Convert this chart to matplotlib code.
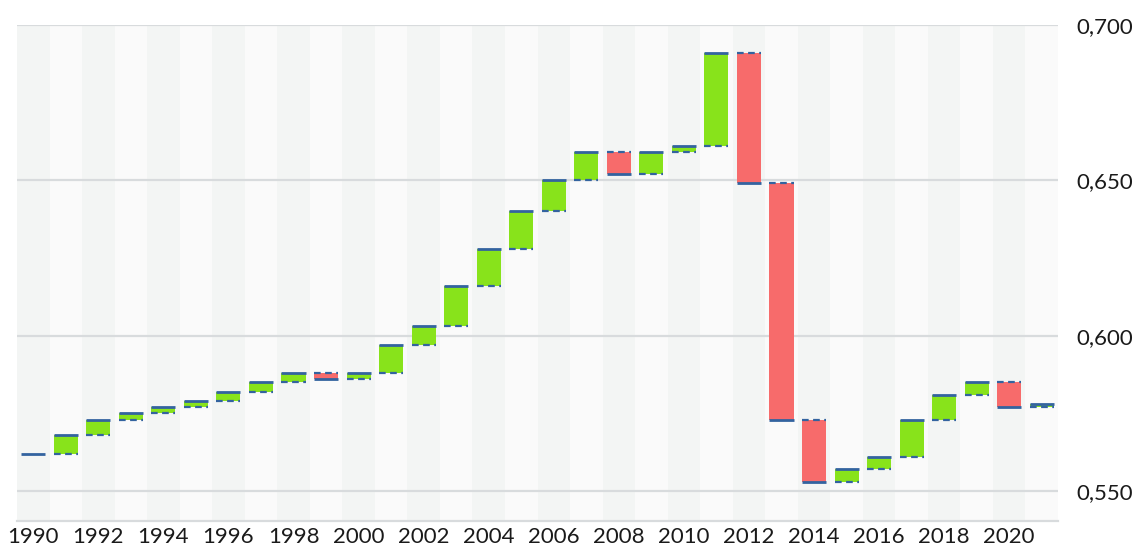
import matplotlib
matplotlib.use("Agg")
import matplotlib.pyplot as plt
from matplotlib.ticker import FuncFormatter

years = list(range(1990, 2022))
values = [0.562, 0.568, 0.573, 0.575, 0.577, 0.579, 0.582, 0.585, 0.588, 0.586,
          0.588, 0.597, 0.603, 0.616, 0.628, 0.640, 0.650, 0.659, 0.652, 0.659,
          0.661, 0.691, 0.649, 0.573, 0.553, 0.557, 0.561, 0.573, 0.581, 0.585,
          0.577, 0.578]
y_ticks = [0.55, 0.60, 0.65, 0.70]
x_ticks = list(range(1990, 2021, 2))

green = "#88e31b"
red = "#f76b6b"
blue = "#33639f"
bar_w = 0.74

plt.rcParams['font.family'] = ['Lato', 'DejaVu Sans']
fig = plt.figure(figsize=(11.36, 5.49), dpi=100)
ax = fig.add_axes([17/1136, 1 - 521/549, (1058 - 17)/1136, (521 - 25)/549])

# alternating year bands
for i, yr in enumerate(years):
    ax.axvspan(yr - 0.5, yr + 0.5, color="#f3f5f4" if i % 2 == 0 else "#fafafa", lw=0, zorder=0)

for t in y_ticks:
    ax.axhline(t, color="#d8dbdd", lw=1.6, zorder=1)

for i, yr in enumerate(years):
    cur = values[i]
    if i > 0:
        prev = values[i - 1]
        col = green if cur >= prev else red
        ax.bar(yr, abs(cur - prev), bottom=min(cur, prev), width=bar_w, color=col, zorder=2)
        ax.hlines(prev, yr - bar_w/2, yr + bar_w/2, colors=blue, lw=1.6,
                  linestyles=(0, (3, 2)), zorder=3)
    ax.hlines(cur, yr - bar_w/2, yr + bar_w/2, colors=blue, lw=2, zorder=4)

ax.set_xlim(1989.5, 2021.5)
ax.set_ylim(0.5404, 0.700)
ax.set_xticks(x_ticks)
ax.set_xticklabels([str(x) for x in x_ticks])
ax.set_yticks(y_ticks)
ax.yaxis.set_major_formatter(FuncFormatter(lambda v, p: ("%.3f" % v).replace(".", ",")))
ax.yaxis.tick_right()
ax.tick_params(axis="both", length=0, labelsize=16, colors="#1a1a1a")
ax.tick_params(axis="y", pad=13)
ax.tick_params(axis="x", pad=4)
for s in ["top", "left", "right"]:
    ax.spines[s].set_visible(False)
ax.spines["bottom"].set_color("#d8dbdd")
ax.spines["bottom"].set_linewidth(1.6)

fig.savefig("out.png", dpi=100)
